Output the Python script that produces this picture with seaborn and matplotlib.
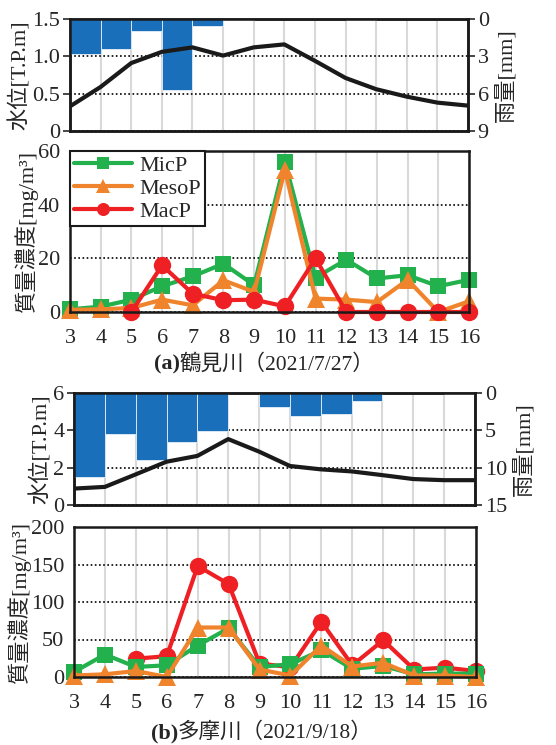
import numpy as np
import pandas as pd
import matplotlib.pyplot as plt
import seaborn as sns

nan = np.nan
hours = list(range(3, 17))

# (a) 鶴見川 2021/7/27
level_a = [0.33, 0.59, 0.91, 1.06, 1.12, 1.01, 1.12, 1.16, 0.94, 0.71, 0.56, 0.46, 0.38, 0.34]
rain_a = [2.85, 2.45, 1.0, 5.7, 0.55, 0.1, 0, 0, 0, 0.1, 0, 0, 0]
micp_a = [1.0, 2.0, 4.6, 9.6, 13.3, 18.0, 10.0, 56.0, 12.8, 19.5, 12.5, 13.7, 9.6, 12.0]
mesop_a = [0.8, 1.0, 1.5, 4.6, 2.5, 11.8, 7.5, 53.0, 5.0, 4.6, 3.7, 12.0, 0.0, 4.0]
macp_a = [nan, nan, 0.0, 17.4, 6.8, 4.4, 4.6, 2.1, 20.0, 0.0, 0.0, 0.0, 0.0, 0.0]

# (b) 多摩川 2021/9/18
level_b = [0.88, 0.97, 1.64, 2.32, 2.63, 3.53, 2.86, 2.09, 1.91, 1.80, 1.60, 1.39, 1.33, 1.33]
rain_b = [11.2, 5.45, 9.0, 6.6, 5.1, 0, 1.94, 3.06, 2.75, 1.08, 0, 0, 0.1]
micp_b = [6.7, 30.0, 13.4, 15.6, 42.0, 65.0, 13.4, 17.0, 35.7, 11.0, 14.7, 3.6, 4.5, 4.5]
mesop_b = [2.0, 3.6, 8.0, 0.0, 66.0, 66.0, 10.0, 2.0, 42.0, 14.0, 19.0, 2.0, 2.0, 0.0]
macp_b = [nan, nan, 24.5, 27.7, 148.0, 124.0, 18.0, 13.0, 73.7, 15.6, 49.0, 10.0, 12.5, 8.0]

sns.set_style('white')
FONT = ['Liberation Serif', 'Noto Sans CJK JP', 'DejaVu Sans']
plt.rcParams['font.family'] = FONT

W, H = 556, 745
fig = plt.figure(figsize=(W / 100, H / 100), dpi=100)

def px_axes(l, t, r, b):
    return fig.add_axes([l / W, 1 - b / H, (r - l) / W, (b - t) / H])

BLUE = '#1a6fba'
GREEN = '#22b14c'
ORANGE = '#f0842c'
RED = '#ee2024'
GRIDGRAY = '#d9d9d9'
FS = 16

def style_spines(ax):
    for s in ax.spines.values():
        s.set_color('#1a1a1a')
        s.set_linewidth(1.8)

def draw_level(box, level, rain, lvl_ticks, lvl_labels, rain_ticks):
    ax2 = px_axes(*box)  # rain axis (bottom layer, holds grid)
    ax1 = ax2.twinx()    # level axis on top
    ax2.yaxis.tick_right()
    ax2.yaxis.set_label_position('right')
    ax1.yaxis.tick_left()
    ax1.yaxis.set_label_position('left')

    ax2.bar(hours[:-1], rain, width=1.0, align='edge', color=BLUE,
            edgecolor='#e8f0f8', linewidth=0.6, zorder=3)
    ax2.set_ylim(rain_ticks[-1], 0)
    ax2.set_yticks(rain_ticks)
    ax2.set_xlim(3, 16)
    ax2.set_xticks(hours)
    ax2.set_axisbelow(True)
    ax2.grid(axis='x', color=GRIDGRAY, linewidth=1.5)
    ax2.grid(axis='y', color='black', linestyle=(0, (1, 1.5)), linewidth=1.2)
    ax2.tick_params(axis='x', length=0, labelbottom=False)
    ax2.tick_params(axis='y', direction='out', length=5, width=1.2, labelsize=FS, pad=2)
    ax2.set_ylabel('雨量[mm]', fontsize=FS, family=FONT, labelpad=4)

    sns.lineplot(x=hours, y=level, ax=ax1, color='#1a1a1a', linewidth=3)
    ax1.set_ylim(lvl_ticks[0], lvl_ticks[-1])
    ax1.set_yticks(lvl_ticks)
    ax1.set_yticklabels(lvl_labels)
    ax1.set_xlim(3, 16)
    ax1.tick_params(axis='y', direction='out', length=5, width=1.2, labelsize=FS, pad=2)
    ax1.tick_params(axis='x', length=0, labelbottom=False)
    ax1.set_ylabel('水位[T.P.m]', fontsize=FS, family=FONT, labelpad=1)
    ax1.grid(False)
    style_spines(ax1)
    style_spines(ax2)
    return ax1, ax2

def draw_conc(box, series, order, ymax, ystep, legend):
    ax = px_axes(*box)
    specs = {
        'MicP': (GREEN, 's', 12),
        'MesoP': (ORANGE, '^', 13),
        'MacP': (RED, 'o', 12.5),
    }
    for name in order:
        color, mk, ms = specs[name]
        sns.lineplot(x=hours, y=series[name], ax=ax, color=color, linewidth=3,
                     marker=mk, markersize=ms, markeredgecolor=color,
                     markeredgewidth=0, label=name, legend=False, clip_on=False)
    ax.set_xlim(3, 16)
    ax.set_ylim(0, ymax)
    ax.set_xticks(hours)
    ax.set_yticks(np.arange(0, ymax + 1, ystep))
    ax.set_axisbelow(True)
    ax.grid(axis='x', color=GRIDGRAY, linewidth=1.5)
    ax.grid(axis='y', color='black', linestyle=(0, (1, 1.5)), linewidth=1.2)
    ax.tick_params(axis='x', length=0, labelsize=FS, pad=12)
    ax.tick_params(axis='y', direction='out', length=5, width=1.2, labelsize=FS, pad=2)
    ax.set_xlabel('')
    ax.set_ylabel('質量濃度[mg/m³]', fontsize=FS, family=FONT, labelpad=0)
    style_spines(ax)
    if legend:
        handles, labels = ax.get_legend_handles_labels()
        keep = ['MicP', 'MesoP', 'MacP']
        hmap = dict(zip(labels, handles))
        leg = ax.legend([hmap[k] for k in keep], keep, loc='upper left',
                        bbox_to_anchor=(0, 1), borderaxespad=0, fontsize=FS,
                        frameon=True, fancybox=False, markerscale=0.75,
                        handlelength=2.6, handletextpad=0.3, labelspacing=0.1,
                        borderpad=0.2)
        leg.get_frame().set_edgecolor('#1a1a1a')
        leg.get_frame().set_linewidth(1.5)
        leg.get_frame().set_alpha(1)
    return ax

# panel (a)
draw_level((70, 19, 468, 131), level_a, rain_a,
           [0, 0.5, 1.0, 1.5], ['0', '0.5', '1.0', '1.5'], [0, 3, 6, 9])
draw_conc((70, 151, 469, 312),
          {'MicP': micp_a, 'MesoP': mesop_a, 'MacP': macp_a},
          ['MicP', 'MesoP', 'MacP'], 60, 20, True)

# panel (b)
draw_level((74, 393, 475, 505), level_b, rain_b,
           [0, 2, 4, 6], ['0', '2', '4', '6'], [0, 5, 10, 15])
draw_conc((74, 527, 476, 677),
          {'MicP': micp_b, 'MesoP': mesop_b, 'MacP': macp_b},
          ['MacP', 'MicP', 'MesoP'], 200, 50, False)

# captions
for bx, cy, tag, rest in [(180, 364, '(a)', '鶴見川（2021/7/27）'),
                          (178, 733, '(b)', '多摩川（2021/9/18）')]:
    fig.text(bx / W, 1 - cy / H, tag, ha='right', va='center', fontsize=FS,
             fontweight='bold', family=FONT)
    fig.text(bx / W, 1 - cy / H, rest, ha='left', va='center', fontsize=15.5,
             family=FONT)

fig.savefig('out.png', dpi=100)
